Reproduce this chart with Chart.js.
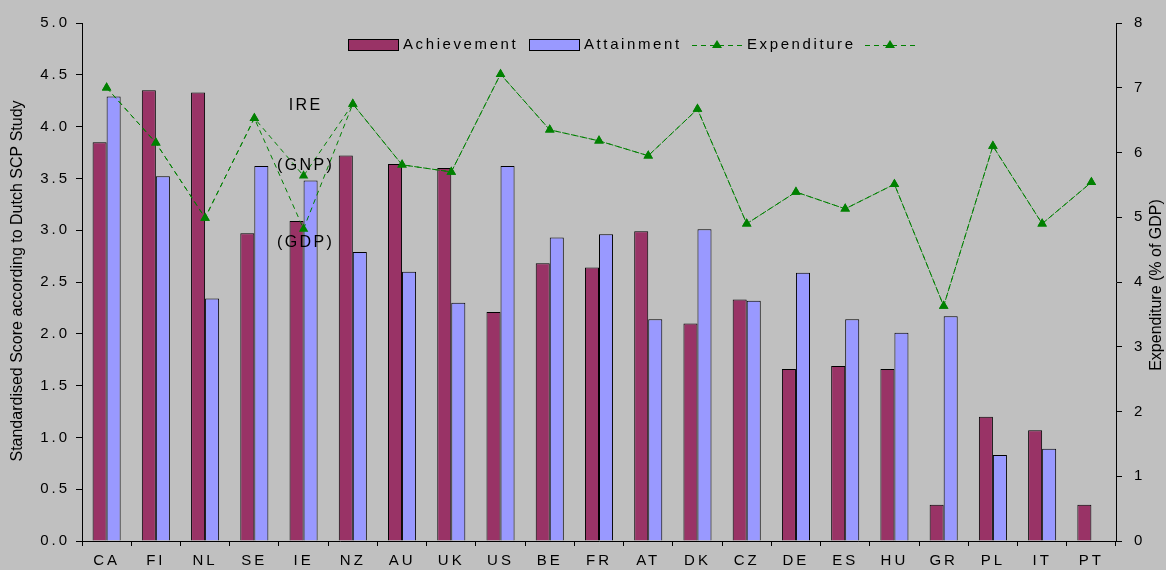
<!DOCTYPE html>
<html>
<head>
<meta charset="utf-8">
<script src="https://cdn.jsdelivr.net/npm/chart.js@4.4.0/dist/chart.umd.min.js"></script>
<style>
html, body { margin: 0; padding: 0; background: #c0c0c0; }
</style>
</head>
<body>
<canvas id="chart1" width="1166" height="570"></canvas>
<script>
// values
const countries = ['CA', 'FI', 'NL', 'SE', 'IE', 'NZ', 'AU', 'UK', 'US', 'BE', 'FR', 'AT', 'DK', 'CZ', 'DE', 'ES', 'HU', 'GR', 'PL', 'IT', 'PT'];
const achievement = [3.85, 4.35, 4.33, 2.97, 3.09, 3.72, 3.64, 3.60, 2.21, 2.68, 2.64, 2.99, 2.10, 2.33, 1.66, 1.69, 1.66, 0.35, 1.20, 1.07, 0.35];
const attainment = [4.29, 3.52, 2.34, 3.62, 3.48, 2.79, 2.60, 2.30, 3.62, 2.93, 2.96, 2.14, 3.01, 2.32, 2.59, 2.14, 2.01, 2.17, 0.83, 0.89, null];
// Ireland is given twice: once as % of GNP, once as % of GDP
const expenditureGNP = [7.0, 6.15, 4.99, 6.53, 5.64, 6.75, 5.81, 5.70, 7.21, 6.35, 6.18, 5.95, 6.67, 4.90, 5.39, 5.13, 5.51, 3.63, 6.10, 4.90, 5.54];
const expenditureGDP = [7.0, 6.15, 4.99, 6.53, 4.82, 6.75, 5.81, 5.70, 7.21, 6.35, 6.18, 5.95, 6.67, 4.90, 5.39, 5.13, 5.51, 3.63, 6.10, 4.90, 5.54];
const leftTicks = ['0.0', '0.5', '1.0', '1.5', '2.0', '2.5', '3.0', '3.5', '4.0', '4.5', '5.0'];
const rightTicks = ['0', '1', '2', '3', '4', '5', '6', '7', '8'];
const notes = [['IRE', 6.73], ['(GNP)', 5.8], ['(GDP)', 4.61]];

const FONT = "'Liberation Sans', Arial, sans-serif";
const PURPLE = '#993366';
const LILAC = '#9999ff';
const GREEN = '#008000';

function triangle(ctx, x, y) {
    ctx.beginPath();
    ctx.moveTo(x, y - 5);
    ctx.lineTo(x + 5, y + 3);
    ctx.lineTo(x - 5, y + 3);
    ctx.closePath();
    ctx.fill();
}

const extras = {
    id: 'extras',
    beforeDraw(chart) {
        chart.ctx.letterSpacing = '3px';
    },
    afterDraw(chart) {
        const ctx = chart.ctx;
        const xs = chart.scales.x;
        const y2 = chart.scales.y2;
        ctx.save();
        ctx.fillStyle = '#000';
        ctx.letterSpacing = '0px';
        ctx.font = '16px ' + FONT;
        ctx.textAlign = 'center';
        ctx.textBaseline = 'middle';
        // axis titles
        ctx.save();
        ctx.translate(18, 281);
        ctx.rotate(-Math.PI / 2);
        ctx.fillText('Standardised Score according to Dutch SCP Study', 0, 0);
        ctx.restore();
        ctx.save();
        ctx.translate(1157, 285);
        ctx.rotate(-Math.PI / 2);
        ctx.fillText('Expenditure (% of GDP)', 0, 0);
        ctx.restore();

        // notes next to Ireland
        ctx.letterSpacing = '2.4px';
        ctx.font = '16px ' + FONT;
        notes.forEach(function(n) {
            ctx.fillText(n[0], xs.getPixelForValue(4) + 2, y2.getPixelForValue(n[1]));
        });

        // legend
        ctx.letterSpacing = '2.6px';
        ctx.font = '15px ' + FONT;
        ctx.textAlign = 'left';
        const ly = 45;
        ctx.lineWidth = 1;
        ctx.strokeStyle = '#000';
        ctx.fillStyle = PURPLE;
        ctx.fillRect(348.5, 39.5, 50, 11);
        ctx.strokeRect(348.5, 39.5, 50, 11);
        ctx.fillStyle = LILAC;
        ctx.fillRect(529.5, 39.5, 50, 11);
        ctx.strokeRect(529.5, 39.5, 50, 11);
        ctx.fillStyle = '#000';
        ctx.fillText('Achievement', 403, ly);
        ctx.fillText('Attainment', 584, ly);
        ctx.fillText('Expenditure', 747, ly);
        [692, 865].forEach(function(x0) {
            ctx.strokeStyle = GREEN;
            ctx.setLineDash([5, 4]);
            ctx.beginPath();
            ctx.moveTo(x0, ly + 0.5);
            ctx.lineTo(x0 + 50, ly + 0.5);
            ctx.stroke();
            ctx.setLineDash([]);
            ctx.fillStyle = GREEN;
            triangle(ctx, x0 + 25, ly);
        });
        ctx.restore();
    }
};

const ctx1 = document.getElementById('chart1').getContext('2d');
const chart1 = new Chart(ctx1, {
    data: {
        labels: countries,
        datasets: [
            {
                type: 'bar',
                label: 'Achievement',
                data: achievement,
                backgroundColor: PURPLE,
                borderColor: '#000',
                borderWidth: 1,
                categoryPercentage: 0.57,
                barPercentage: 1.0,
                yAxisID: 'y',
                order: 2
            },
            {
                type: 'bar',
                label: 'Attainment',
                data: attainment,
                backgroundColor: LILAC,
                borderColor: '#000',
                borderWidth: 1,
                categoryPercentage: 0.57,
                barPercentage: 1.0,
                yAxisID: 'y',
                order: 2
            },
            {
                type: 'line',
                label: 'Expenditure',
                data: expenditureGNP,
                borderColor: GREEN,
                borderWidth: 1,
                borderDash: [5, 4],
                tension: 0,
                fill: false,
                pointStyle: 'triangle',
                pointRadius: 5.5,
                pointBackgroundColor: GREEN,
                pointBorderColor: GREEN,
                pointBorderWidth: 0,
                yAxisID: 'y2',
                order: 1
            },
            {
                type: 'line',
                label: '',
                data: expenditureGDP,
                borderColor: GREEN,
                borderWidth: 1,
                borderDash: [5, 4],
                tension: 0,
                fill: false,
                pointStyle: 'triangle',
                pointRadius: 5.5,
                pointBackgroundColor: GREEN,
                pointBorderColor: GREEN,
                pointBorderWidth: 0,
                yAxisID: 'y2',
                order: 1
            }
        ]
    },
    options: {
        responsive: false,
        animation: false,
        devicePixelRatio: 1,
        layout: { padding: { top: 23, left: 0, right: 0, bottom: 0 } },
        plugins: {
            legend: { display: false },
            tooltip: { enabled: false }
        },
        scales: {
            x: {
                offset: true,
                grid: { display: true, drawOnChartArea: false, drawTicks: true, tickLength: 5, color: '#000', offset: true },
                border: { color: '#000' },
                ticks: { color: '#000', font: { size: 15, family: FONT }, padding: 6, maxRotation: 0, autoSkip: false },
                afterFit: function(s) { s.height = 29; }
            },
            y: {
                position: 'left',
                min: 0,
                max: 5,
                afterBuildTicks: function(s) {
                    s.ticks = leftTicks.map(function(t) { return { value: parseFloat(t) }; });
                },
                grid: { display: true, drawOnChartArea: false, drawTicks: true, tickLength: 6, color: '#000' },
                border: { color: '#000' },
                ticks: {
                    color: '#000',
                    font: { size: 15, family: FONT },
                    padding: 6,
                    callback: function(v, i) { return leftTicks[i]; }
                },
                afterFit: function(s) { s.width = 82; }
            },
            y2: {
                position: 'right',
                min: 0,
                max: 8,
                afterBuildTicks: function(s) {
                    s.ticks = rightTicks.map(function(t) { return { value: parseFloat(t) }; });
                },
                grid: { display: true, drawOnChartArea: false, drawTicks: true, tickLength: 6, color: '#000' },
                border: { color: '#000' },
                ticks: {
                    color: '#000',
                    font: { size: 15, family: FONT },
                    padding: 12,
                    callback: function(v, i) { return rightTicks[i]; }
                },
                afterFit: function(s) { s.width = 50; }
            }
        }
    },
    plugins: [extras]
});
</script>
</body>
</html>
